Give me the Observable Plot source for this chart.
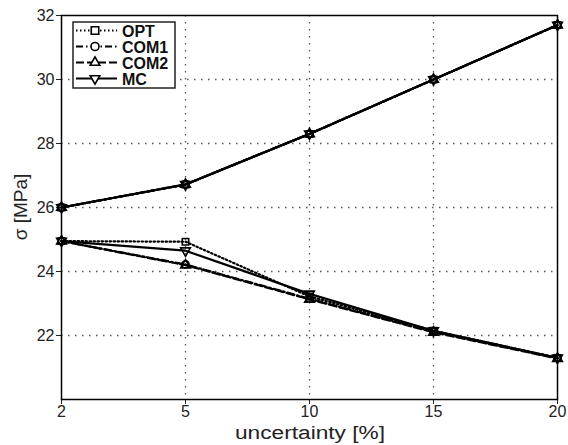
<!DOCTYPE html>
<html>
<head>
<meta charset="utf-8">
<script src="https://cdn.jsdelivr.net/npm/d3@7"></script>
<script src="https://cdn.jsdelivr.net/npm/@observablehq/plot@0.6"></script>
<style>
  html, body { margin: 0; padding: 0; background: #fff; }
  #chart { width: 568px; height: 445px; }
</style>
</head>
<body>
<div id="chart"></div>
<script>
// ---- data ----
const uncertainty = ["2", "5", "10", "15", "20"];
const seriesNames = ["OPT", "COM1", "COM2", "MC"];
const optHigh  = [26.0, 26.72, 28.3, 30.0, 31.7];
const com1High = [26.0, 26.72, 28.3, 30.0, 31.7];
const com2High = [26.0, 26.72, 28.3, 30.0, 31.7];
const mcHigh   = [26.0, 26.72, 28.3, 30.0, 31.7];
const optLow   = [24.95, 24.93, 23.22, 22.15, 21.3];
const com1Low  = [24.95, 24.22, 23.15, 22.12, 21.3];
const com2Low  = [24.95, 24.2, 23.13, 22.1, 21.28];
const mcLow    = [24.95, 24.65, 23.3, 22.15, 21.3];
const yTicks = [20, 22, 24, 26, 28, 30, 32];

const seriesData = {
  OPT: [optHigh, optLow],
  COM1: [com1High, com1Low],
  COM2: [com2High, com2Low],
  MC: [mcHigh, mcLow]
};
const dashes = {OPT: "1.5,2.5", COM1: "7,3,1.5,3", COM2: "8,3", MC: null};
const symbols = {OPT: "square", COM1: "circle", COM2: "triangle", MC: "triangle"};
const rotations = {OPT: 0, COM1: 0, COM2: 0, MC: 180};

const rows = [];
for (const s of seriesNames) {
  seriesData[s].forEach((arr, b) => {
    arr.forEach((v, i) => rows.push({series: s, branch: b, x: uncertainty[i], y: v}));
  });
}

const marks = [
  Plot.gridX(["5", "10", "15"], {stroke: "#555", strokeOpacity: 1, strokeDasharray: "1.5,5.5", strokeWidth: 1.3}),
  Plot.gridY([22, 24, 26, 28, 30], {stroke: "#555", strokeOpacity: 1, strokeDasharray: "1.5,5.5", strokeWidth: 1.3}),
  Plot.axisX({tickSize: 5, tickPadding: 1, fontSize: 16, label: null}),
  Plot.axisY(yTicks.filter(t => t !== 20), {tickSize: 5, tickPadding: 2, fontSize: 16, label: null}),
];
for (const s of seriesNames) {
  const d = rows.filter(r => r.series === s);
  marks.push(Plot.line(d, {x: "x", y: "y", z: "branch", stroke: "black", strokeWidth: 2.2,
    strokeDasharray: dashes[s] || undefined}));
}
for (const s of seriesNames) {
  const d = rows.filter(r => r.series === s);
  marks.push(Plot.dot(d, {x: "x", y: "y", symbol: () => symbols[s], r: 3.6, stroke: "black",
    strokeWidth: 1.6, fill: "white", fillOpacity: 0, rotate: rotations[s]}));
}
marks.push(Plot.frame({stroke: "black", strokeWidth: 1.5}));

const plot = Plot.plot({
  width: 568,
  height: 445,
  marginLeft: 61,
  marginRight: 11,
  marginTop: 15,
  marginBottom: 46,
  style: {fontFamily: "Liberation Sans, Arial, sans-serif", fontSize: "16px", color: "#222", background: "white"},
  x: {type: "point", domain: uncertainty, padding: 0},
  y: {domain: [20, 32]},
  symbol: {domain: ["square", "circle", "triangle"], range: ["square", "circle", "triangle"]},
  marks
});
document.getElementById("chart").appendChild(plot);

// axis titles and legend overlay
const svg = d3.select(plot);
svg.append("text").attr("x", 310).attr("y", 439).attr("text-anchor", "middle")
  .style("font-size", "18px").attr("fill", "#222")
  .attr("textLength", 150).attr("lengthAdjust", "spacingAndGlyphs").text("uncertainty [%]");
svg.append("text").attr("transform", "translate(27,207) rotate(-90)").attr("text-anchor", "middle")
  .style("font-size", "19px").attr("fill", "#222").text("σ [MPa]");

const lg = svg.append("g").attr("transform", "translate(73,22)");
lg.append("rect").attr("width", 102).attr("height", 66).attr("fill", "white").attr("stroke", "#222").attr("stroke-width", 1.5);
const symGen = {
  OPT: d3.symbol(d3.symbolSquare, 56),
  COM1: d3.symbol(d3.symbolCircle, 50),
  COM2: d3.symbol(d3.symbolTriangle, 40),
  MC: d3.symbol(d3.symbolTriangle, 40)
};
seriesNames.forEach((s, i) => {
  const y = 8.5 + i * 16;
  lg.append("line").attr("x1", 3).attr("x2", 44).attr("y1", y).attr("y2", y)
    .attr("stroke", "black").attr("stroke-width", 2)
    .attr("stroke-dasharray", dashes[s] || null);
  lg.append("path").attr("d", symGen[s]())
    .attr("transform", `translate(22,${y}) rotate(${rotations[s]})`)
    .attr("fill", "white").attr("stroke", "black").attr("stroke-width", 1.6);
  lg.append("text").attr("x", 49).attr("y", y + 6).attr("text-anchor", "start")
    .style("font-size", "16px").style("font-weight", "bold")
    .attr("fill", "#111").text(s);
});
</script>
</body>
</html>
